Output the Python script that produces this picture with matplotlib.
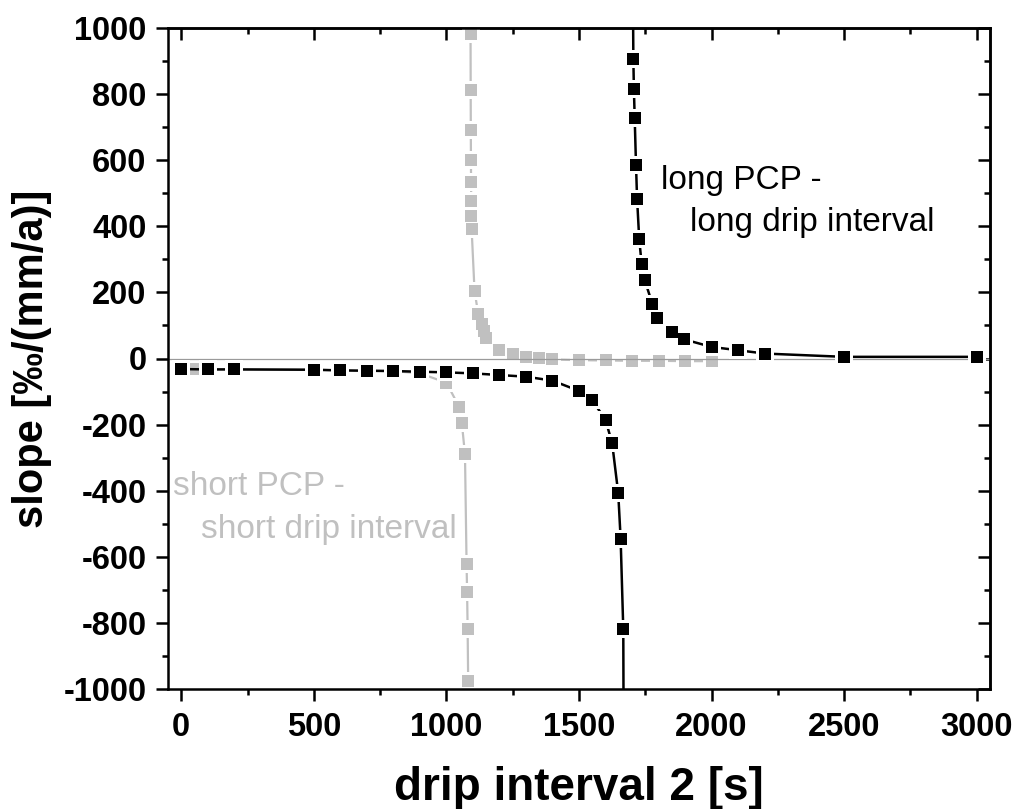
import numpy as np
import matplotlib
matplotlib.use("Agg")
import matplotlib.pyplot as plt
from matplotlib.ticker import MultipleLocator

# ---------------- data ----------------
# long PCP - long drip interval (black), two branches of the hyperbola
long_low_x = [0, 100, 200, 500, 600, 700, 800, 900, 1000, 1100, 1200, 1300, 1400,
              1500, 1550, 1600, 1625, 1648, 1657, 1667, 1669]
long_low_y = [-32, -33, -33, -34, -36, -37, -38, -40, -42, -45, -50, -55, -67,
              -98, -126, -186, -256, -408, -545, -819, -1300]
long_high_x = [1703, 1705, 1707, 1710, 1715, 1719, 1727, 1736, 1748, 1777, 1796,
               1849, 1896, 2000, 2100, 2200, 2500, 3000]
long_high_y = [1150, 905, 815, 729, 585, 484, 363, 287, 237, 164, 124,
               80, 58, 35, 25, 15, 5, 5]

# short PCP - short drip interval (grey)
short_low_x = [0, 50, 100, 200, 500, 600, 700, 800, 900, 1000, 1049, 1058, 1070,
               1076, 1078, 1080, 1082, 1083]
short_low_y = [-30, -32, -33, -33, -34, -36, -37, -38, -45, -73, -148, -194, -290,
               -622, -706, -819, -975, -1200]
short_high_x = [1090, 1091, 1091.5, 1092, 1092.5, 1093, 1093.5, 1094, 1095, 1106,
                1120, 1133, 1142, 1149, 1200, 1250, 1300, 1350, 1400, 1500, 1600,
                1700, 1800, 1900, 2000]
short_high_y = [1200, 981, 812, 690, 600, 533, 477, 430, 393, 205,
                134, 104, 84, 63, 25, 13, 6, 1, -3, -5, -6,
                -7, -7, -8, -8]

x_ticks = [0, 500, 1000, 1500, 2000, 2500, 3000]
y_ticks = [-1000, -800, -600, -400, -200, 0, 200, 400, 600, 800, 1000]

# ---------------- style ----------------
plt.rcParams['font.family'] = ['Liberation Sans', 'DejaVu Sans']
plt.rcParams['axes.unicode_minus'] = False

BLACK = '#000000'
GREY = '#c0c0c0'

fig = plt.figure(figsize=(10.16, 8.09), dpi=100)
ax = fig.add_axes([168 / 1016, 1 - 689 / 809, (990 - 168) / 1016, (689 - 28) / 809])

ms = 9.0       # marker size (pt)
pad_ms = 12.6  # white "gap to symbol" pad


def draw_series(xs, ys, color, lw, z):
    ax.plot(xs, ys, '-', color=color, lw=lw, zorder=z, solid_capstyle='butt')
    ax.plot(xs, ys, 's', color='white', ms=pad_ms, mew=0, zorder=z + 0.1)
    ax.plot(xs, ys, 's', color=color, ms=ms, mew=0, zorder=z + 0.2)


draw_series(short_low_x, short_low_y, GREY, 1.6, 2)
draw_series(short_high_x, short_high_y, GREY, 1.6, 2)
ax.axhline(0, color='#9a9a9a', lw=0.9, zorder=2.5)
draw_series(long_low_x, long_low_y, BLACK, 1.8, 3)
draw_series(long_high_x, long_high_y, BLACK, 1.8, 3)

ax.set_xlim(-50, 3050)
ax.set_ylim(-1000, 1000)

ax.set_xticks(x_ticks)
ax.set_yticks(y_ticks)
ax.xaxis.set_minor_locator(MultipleLocator(250))
ax.yaxis.set_minor_locator(MultipleLocator(100))

tick_font = dict(fontsize=23.5, fontweight='bold')
ax.set_xticklabels([str(v) for v in x_ticks], **tick_font)
ax.set_yticklabels([str(v) for v in y_ticks], **tick_font)

ax.tick_params(which='major', direction='out', length=8.5, width=1.8)
ax.tick_params(which='minor', direction='out', length=4.5, width=1.8)
ax.tick_params(axis='x', which='major', pad=8)
ax.tick_params(axis='y', which='major', pad=7)

for s in ax.spines.values():
    s.set_linewidth(1.8)

# mirrored inward ticks on top and right
top = ax.secondary_xaxis('top')
top.set_xticks(x_ticks)
top.xaxis.set_minor_locator(MultipleLocator(250))
top.tick_params(which='major', direction='in', length=8.5, width=1.8, labeltop=False)
top.tick_params(which='minor', direction='in', length=4.5, width=1.8)
top.spines['top'].set_linewidth(1.8)

right = ax.secondary_yaxis('right')
right.set_yticks(y_ticks)
right.yaxis.set_minor_locator(MultipleLocator(100))
right.tick_params(which='major', direction='in', length=8.5, width=1.8, labelright=False)
right.tick_params(which='minor', direction='in', length=4.5, width=1.8)
right.spines['right'].set_linewidth(1.8)

ax.set_xlabel('drip interval 2 [s]', fontsize=33, fontweight='bold', va='center')
ax.xaxis.set_label_coords(0.5, -0.150)
ax.set_ylabel('slope [‰/(mm/a)]', fontsize=30, fontweight='bold', va='center')
ax.yaxis.set_label_coords(-0.1655, 0.5)

# annotations
ax.text(1810, 512, 'long PCP -', fontsize=24, color=BLACK, ha='left', va='baseline')
ax.text(1919, 386, 'long drip interval', fontsize=24, color=BLACK, ha='left', va='baseline')
ax.text(-30, -413, 'short PCP -', fontsize=24, color=GREY, ha='left', va='baseline')
ax.text(73, -542, 'short drip interval', fontsize=24, color=GREY, ha='left', va='baseline')

fig.savefig('out.png', dpi=100)
